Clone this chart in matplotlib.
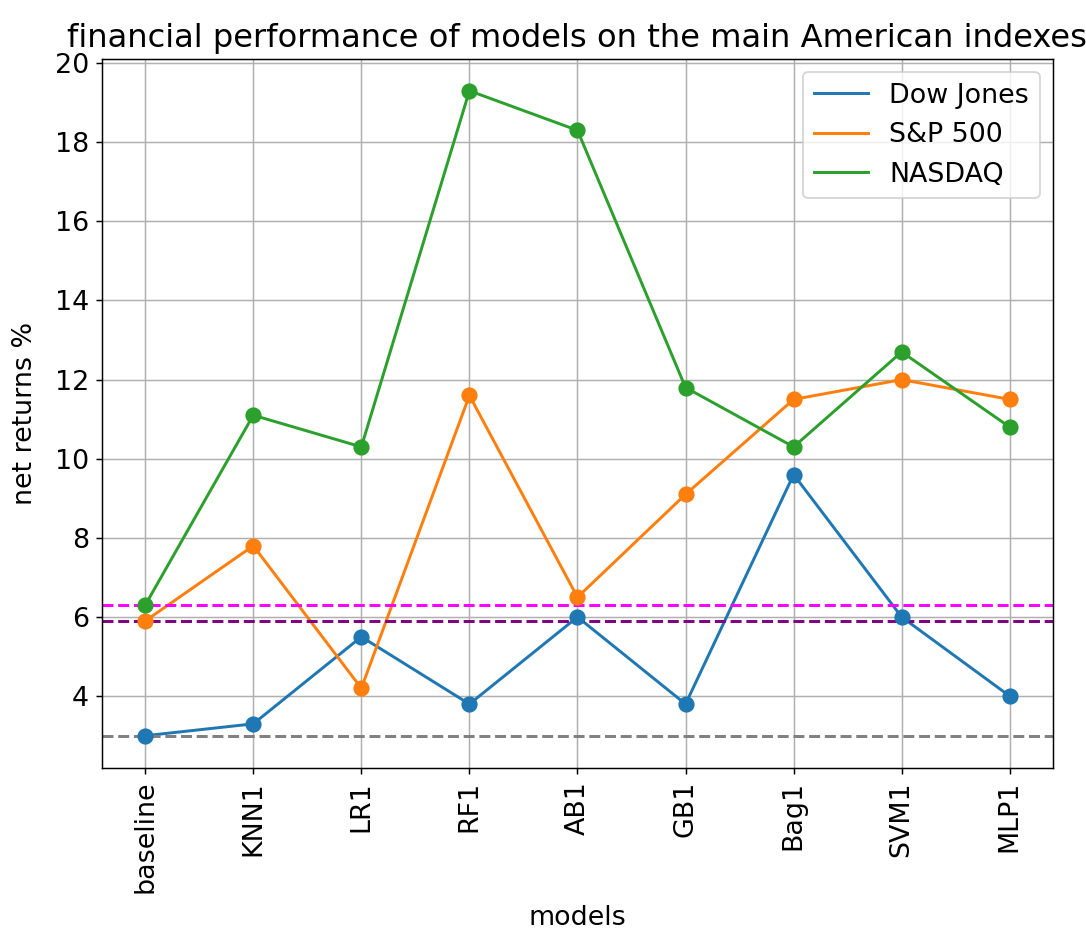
import matplotlib
matplotlib.use("Agg")
import matplotlib.pyplot as plt

models = ["baseline", "KNN1", "LR1", "RF1", "AB1", "GB1", "Bag1", "SVM1", "MLP1"]
dow_jones = [3.0, 3.3, 5.5, 3.8, 6.0, 3.8, 9.6, 6.0, 4.0]
sp500 = [5.9, 7.8, 4.2, 11.6, 6.5, 9.1, 11.5, 12.0, 11.5]
nasdaq = [6.3, 11.1, 10.3, 19.3, 18.3, 11.8, 10.3, 12.7, 10.8]
series_names = ["Dow Jones", "S&P 500", "NASDAQ"]
baselines = {"Dow Jones": 3.0, "S&P 500": 5.9, "NASDAQ": 6.3}

plt.rcParams["font.size"] = 14.5
plt.rcParams["axes.titlesize"] = 17.4

DPI = 133.33
fig = plt.figure(figsize=(1086 / DPI, 932 / DPI), dpi=DPI)
ax = fig.add_axes([0.0939, 0.1760, 0.8757, 0.7612])

colors = ["#1f77b4", "#ff7f0e", "#2ca02c"]
for name, vals, c in zip(series_names, [dow_jones, sp500, nasdaq], colors):
    ax.plot(models, vals, color=c, label=name, linewidth=1.6)
    ax.scatter(models, vals, color=c, s=60, zorder=3)

ax.axhline(baselines["NASDAQ"], color="magenta", linestyle="--", linewidth=1.6)
ax.axhline(baselines["S&P 500"], color="purple", linestyle="--", linewidth=1.6)
ax.axhline(baselines["Dow Jones"], color="gray", linestyle="--", linewidth=1.6)

ax.set_title("financial performance of models on the main American indexes")
ax.set_xlabel("models", labelpad=6)
ax.set_ylabel("net returns %", labelpad=9)
ax.tick_params(axis="x", rotation=90)
ax.grid(True)
ax.legend(loc="upper right")

fig.savefig("out.png", dpi=DPI)
